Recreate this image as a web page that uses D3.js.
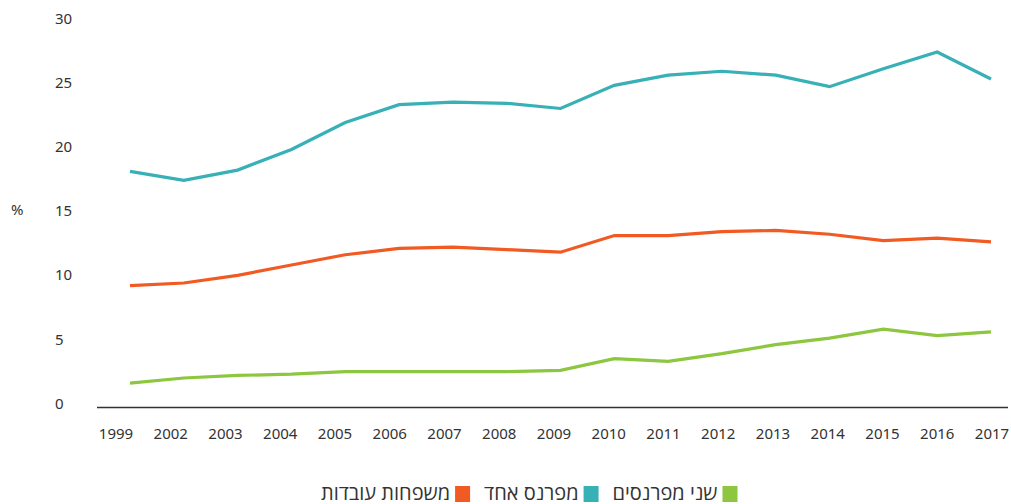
<!DOCTYPE html>
<html><head><meta charset="utf-8">
<script src="https://cdn.jsdelivr.net/npm/d3@7/dist/d3.min.js"></script>
<style>
html,body{margin:0;padding:0;background:#fff;}
svg{display:block;font-family:"Noto Sans","Open Sans","Liberation Sans","DejaVu Sans",sans-serif;}
.leg{font-family:"Open Sans","Liberation Sans","DejaVu Sans",sans-serif;}
</style></head>
<body><svg id="c" width="1011" height="504"></svg>
<script>
const years = ["1999","2002","2003","2004","2005","2006","2007","2008","2009","2010","2011","2012","2013","2014","2015","2016","2017"];
const oneEarner = [18.4,17.7,18.5,20.1,22.2,23.6,23.8,23.7,23.3,25.1,25.9,26.2,25.9,25.0,26.4,27.7,25.6];
const workingFamilies = [9.5,9.7,10.3,11.1,11.9,12.4,12.5,12.3,12.1,13.4,13.4,13.7,13.8,13.5,13.0,13.2,12.9];
const twoEarners = [1.9,2.3,2.5,2.6,2.8,2.8,2.8,2.8,2.9,3.8,3.6,4.2,4.9,5.4,6.1,5.6,5.9];
const yTicks = [0,5,10,15,20,25,30];
const seriesNames = ["משפחות עובדות","מפרנס אחד","שני מפרנסים"];
const seriesColors = ["#f15a22","#37b0b6","#8dc63f"];
const yUnit = "%";

const svg = d3.select("#c");
const y = d3.scaleLinear().domain([0,30]).range([407.5,22.5]);
const xLab = d3.scalePoint().domain(years).range([116,992]);
const xLine = d3.scalePoint().domain(years).range([130,991]);

// baseline
svg.append("line").attr("x1",97).attr("x2",1008).attr("y1",y(0)).attr("y2",y(0))
  .attr("stroke","#333").attr("stroke-width",1.5);

// y labels
svg.append("g").selectAll("text").data(yTicks).join("text")
  .attr("x",55).attr("y",d=>y(d)-4).attr("dy","0.35em")
  .attr("font-size",15).attr("fill","#333").text(d=>d);
svg.append("text").attr("x",11).attr("y",210).attr("dy","0.35em")
  .attr("font-size",15).attr("fill","#333").text(yUnit);

// x labels
svg.append("g").selectAll("text").data(years).join("text")
  .attr("x",d=>xLab(d)).attr("y",434).attr("dy","0.35em").attr("text-anchor","middle")
  .attr("font-size",15).attr("fill","#333").text(d=>d);

const data = [workingFamilies, oneEarner, twoEarners];
const line = d3.line().x((d,i)=>xLine(years[i])).y(d=>y(d));
svg.append("g").selectAll("path").data(data).join("path")
  .attr("d",line).attr("fill","none")
  .attr("stroke",(d,i)=>seriesColors[i]).attr("stroke-width",3.2)
  .attr("stroke-linejoin","miter");

// legend (RTL): items from right to left: two earners, one earner, working families
const lg = svg.append("g").attr("class","leg");
const order = [2,1,0];
const fs = 20, sq = 15, gapTS = 5, gapItem = 14;
let xr = 737.5;
order.forEach(k=>{
  lg.append("rect").attr("x",xr-sq).attr("y",486).attr("width",sq).attr("height",16)
    .attr("fill",seriesColors[k]);
  const t = lg.append("text").attr("x",xr-sq-gapTS).attr("y",492.5).attr("dy","0.35em")
    .attr("text-anchor","end").attr("font-size",fs).attr("fill","#333")
    .text(seriesNames[k]);
  const w = t.node().getComputedTextLength();
  xr = xr - sq - gapTS - w - gapItem;
});
</script></body></html>
